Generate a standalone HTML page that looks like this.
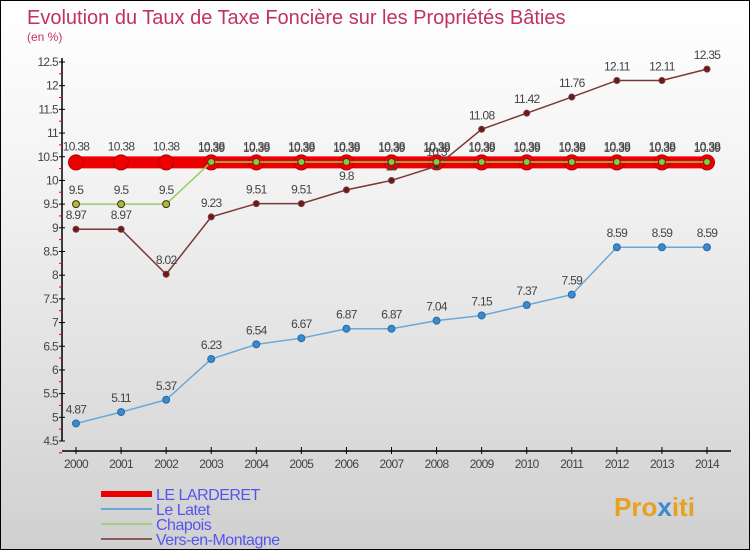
<!DOCTYPE html>
<html><head><meta charset="utf-8"><style>
body{margin:0}
#c{width:750px;height:550px;position:relative;overflow:hidden;box-sizing:border-box;border:1px solid #000;background:linear-gradient(#ffffff,#f4f4f4 30%,#d0d0d0);font-family:"Liberation Sans",sans-serif}
</style></head><body>
<div id="c">
<svg id="s" width="750" height="550" style="position:absolute;left:0;top:0">
<text x="26" y="23" font-size="20" fill="#c0335f">Evolution du Taux de Taxe Foncière sur les Propriétés Bâties</text>
<text x="26" y="40" font-size="12" fill="#c0335f">(en %)</text>
<text x="613" y="515" font-size="26" font-weight="bold" fill="#e8a020">Pro<tspan fill="#3a8ad0">x</tspan>iti</text>
</svg>
</div>
<script>
const years=[2000,2001,2002,2003,2004,2005,2006,2007,2008,2009,2010,2011,2012,2013,2014];
const larderet=[10.38,10.38,10.38,10.38,10.38,10.38,10.38,10.38,10.38,10.38,10.38,10.38,10.38,10.38,10.38];
const latet=[4.87,5.11,5.37,6.23,6.54,6.67,6.87,6.87,7.04,7.15,7.37,7.59,8.59,8.59,8.59];
const chapois=[9.5,9.5,9.5,10.39,10.39,10.39,10.39,10.39,10.39,10.39,10.39,10.39,10.39,10.39,10.39];
const vers=[8.97,8.97,8.02,9.23,9.51,9.51,9.8,10,10.3,11.08,11.42,11.76,12.11,12.11,12.35];
const yTicks=[4.5,5,5.5,6,6.5,7,7.5,8,8.5,9,9.5,10,10.5,11,11.5,12,12.5];
const NS="http://www.w3.org/2000/svg",s=document.getElementById('s');
const X=i=>75+i*(706-75)/14, Y=v=>440-(v-4.5)*(440-61)/8;
function el(t,a,p){const e=document.createElementNS(NS,t);for(const k in a)e.setAttribute(k,a[k]);(p||s).appendChild(e);return e;}
let ax=el('line',{x1:61,y1:57,x2:61,y2:440,stroke:'#000','stroke-width':1.5});


let xa=el('line',{x1:61,y1:450,x2:730,y2:450,stroke:'#000','stroke-width':1.5});


yTicks.forEach(v=>{el('line',{x1:58,x2:64,y1:Y(v),y2:Y(v),stroke:'#000'});
 el('line',{x1:58,x2:61,y1:Y(v)+11.8,y2:Y(v)+11.8,stroke:'#e00'});
 const t=el('text',{x:57,y:Y(v)+4,'text-anchor':'end','font-size':12,fill:'#444','letter-spacing':'-0.7'});t.textContent=v;
 
 });
years.forEach((y,i)=>{el('line',{x1:X(i),x2:X(i),y1:446,y2:453,stroke:'#000'});
 const t=el('text',{x:X(i),y:467,'text-anchor':'middle','font-size':12,fill:'#444','letter-spacing':'-0.7'});t.textContent=y;
 
 });
function series(d,col,w,r,fill,name,dy,sc){
 const g=el('g',{});
 
 
 el('polyline',{points:d.map((v,i)=>X(i)+','+Y(v)).join(' '),fill:'none',stroke:col,'stroke-width':w},g);
 d.forEach((v,i)=>{const c=el('circle',{cx:X(i),cy:Y(v),r:r,fill:fill,stroke:sc||col,'stroke-width':1},g);
  
  
  const t=el('text',{x:X(i),y:Y(v)+dy,'text-anchor':'middle','font-size':12,fill:'#444','letter-spacing':'-0.7'},g);t.textContent=v;});
}
series(larderet,'#e00',12,7.5,'#e00','series-le-larderet',-12,'#b00');
series(latet,'#6aa8d8',1.5,3.5,'#3a8ad0','series-le-latet',-10,'#2a6aa0');
series(vers,'#7a3838',1.5,3,'#6a1a1a','series-vers-en-montagne',-10);
series(chapois,'#8ed060',1.5,3.5,'#7ad040','series-chapois',-10,'#8a1010');
const leg=[['LE LARDERET','#e00',6],['Le Latet','#6aa8d8',2],['Chapois','#9ed080',2],['Vers-en-Montagne','#8a5a5a',2]];
leg.forEach((l,i)=>{const g=el('g',{});
 
 
 const y=493+i*15;
 el('line',{x1:100,x2:151,y1:y,y2:y,stroke:l[1],'stroke-width':l[2]},g);
 const t=el('text',{x:155,y:y+6,'font-size':16,fill:'#5555ee','letter-spacing':'-0.5'},g);t.textContent=l[0];});
</script>
</body></html>
